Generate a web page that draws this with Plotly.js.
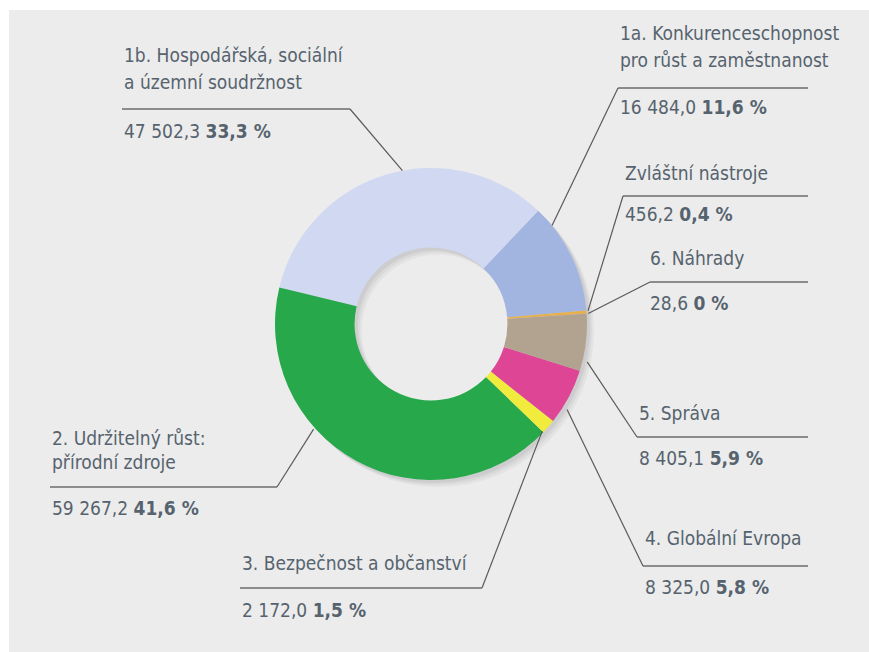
<!DOCTYPE html>
<html>
<head>
<meta charset="utf-8">
<script src="https://cdn.plot.ly/plotly-3.0.1.min.js"></script>
<style>
html,body{margin:0;padding:0;background:#fff;}
#chart{width:869px;height:652px;}
</style>
</head>
<body>
<div id="chart"></div>
<script>
// ---- data ----
const categories = [
  "1a. Konkurenceschopnost<br>pro růst a zaměstnanost",
  "1b. Hospodářská, sociální<br>a územní soudržnost",
  "2. Udržitelný růst:<br>přírodní zdroje",
  "3. Bezpečnost a občanství",
  "4. Globální Evropa",
  "5. Správa",
  "6. Náhrady",
  "Zvláštní nástroje"
];
const amounts = [16484.0, 47502.3, 59267.2, 2172.0, 8325.0, 8405.1, 28.6, 456.2];
const percentLabels = [11.6, 33.3, 41.6, 1.5, 5.8, 5.9, 0, 0.4];
const sliceColors = ["#a2b5e0", "#d0d9f1", "#27a84a", "#f1eb3e", "#de4595", "#b1a38f", "#9a86c0", "#e6b04c"];

// ---- geometry / styling ----
const W = 869, H = 652;
const cx = 431, cy = 324, R = 156, HOLE = 0.49;
const ROT = 85;   // clockwise angle (from 12 o'clock) where the first slice ends
const px = x => x / W;
const py = y => 1 - y / H;

// label layout: text x, label line centres, underline y, underline x range, leader start, value y, anchor fraction in slice, anchor radius factor
const labelLayout = [
  {tx: 618, lines: [33, 60], uy: 88,  ux: [618, 808], from: "left",  vy: 107, f: 0.18, rr: 1.00},
  {tx: 122, lines: [55, 82], uy: 109, ux: [122, 350], from: "right", vy: 131, f: 0.55, rr: 1.00},
  {tx: 50,  lines: [438, 462], uy: 487, ux: [50, 277], from: "right", vy: 508, f: 0.63, rr: 1.01},
  {tx: 240, lines: [563], uy: 588, ux: [240, 482], from: "right", vy: 610, f: 1.00, rr: 0.99},
  {tx: 643, lines: [538], uy: 566, ux: [643, 808], from: "left",  vy: 587, f: 0.70, rr: 1.03},
  {tx: 637, lines: [413], uy: 437, ux: [637, 808], from: "left",  vy: 458, f: 0.82, rr: 1.03},
  {tx: 648, lines: [258], uy: 282, ux: [650, 808], from: "left",  vy: 303, f: 0.50, rr: 1.01},
  {tx: 623, lines: [173], uy: 196, ux: [623, 808], from: "left",  vy: 214, f: 0.20, rr: 1.01}
];

const FONT = '"DejaVu Sans Condensed", "Liberation Sans Narrow", Roboto, sans-serif';
const TXT = "#56636e";

function fmtAmount(v) {
  const s = v.toFixed(1).split(".");
  return s[0].replace(/\B(?=(\d{3})+(?!\d))/g, " ") + "," + s[1];
}
function fmtPct(p) {
  return (p === 0 ? "0" : p.toFixed(1).replace(".", ",")) + " %";
}

const total = amounts.reduce((a, b) => a + b, 0);
const plotlyRotation = ROT - amounts[0] / total * 360;

const domain = {x: [px(cx - R), px(cx + R)], y: [py(cy + R), py(cy - R)]};

// soft shadow layers
const traces = [];
[[7, 7, 0.05], [5, 5, 0.06], [3, 3, 0.07]].forEach(([dx, dy, a]) => {
  traces.push({
    type: "pie", values: [1], labels: ["s"], hole: HOLE, sort: false,
    marker: {colors: ["rgba(60,60,70," + a + ")"]},
    textinfo: "none", hoverinfo: "skip", showlegend: false,
    domain: {x: [px(cx - R + dx), px(cx + R + dx)], y: [py(cy + R + dy), py(cy - R + dy)]}
  });
});

traces.push({
  type: "pie",
  labels: categories,
  values: amounts,
  hole: HOLE,
  sort: false,
  direction: "counterclockwise",
  rotation: plotlyRotation,
  marker: {colors: sliceColors, line: {width: 0}},
  textinfo: "none",
  hoverinfo: "label+value",
  showlegend: false,
  domain: domain
});

// annotations and leader lines
const annotations = [];
const shapes = [
  {type: "rect", xref: "paper", yref: "paper", x0: px(9), x1: 1, y0: 0, y1: py(10),
   fillcolor: "#ececec", line: {width: 0}, layer: "below"}
];
let cum = 0;
categories.forEach((cat, i) => {
  const L = labelLayout[i];
  const a1 = ROT - cum / total * 360;
  cum += amounts[i];
  const a0 = ROT - cum / total * 360;
  const ang = (a0 + L.f * (a1 - a0)) * Math.PI / 180;
  const ax = cx + L.rr * R * Math.sin(ang);
  const ay = cy - L.rr * R * Math.cos(ang);

  const parts = cat.split("<br>");
  parts.forEach((t, j) => {
    annotations.push({
      xref: "paper", yref: "paper", x: px(L.tx), y: py(L.lines[j]),
      xanchor: "left", yanchor: "middle", showarrow: false, text: t,
      font: {family: FONT, size: 19, color: TXT}
    });
  });
  annotations.push({
    xref: "paper", yref: "paper", x: px(L.tx), y: py(L.vy),
    xanchor: "left", yanchor: "middle", showarrow: false,
    text: fmtAmount(amounts[i]) + " <b>" + fmtPct(percentLabels[i]) + "</b>",
    font: {family: FONT, size: 19, color: TXT}
  });
  shapes.push({type: "line", xref: "paper", yref: "paper",
    x0: px(L.ux[0]), x1: px(L.ux[1]), y0: py(L.uy), y1: py(L.uy),
    line: {color: "#8c8c8c", width: 2}});
  const sx = L.from === "left" ? L.ux[0] : L.ux[1];
  shapes.push({type: "line", xref: "paper", yref: "paper",
    x0: px(sx), y0: py(L.uy), x1: px(ax), y1: py(ay),
    line: {color: "#5a5a5a", width: 1.2}});
});

const layout = {
  width: W, height: H,
  margin: {l: 0, r: 0, t: 0, b: 0},
  paper_bgcolor: "#ffffff",
  plot_bgcolor: "#ececec",
  showlegend: false,
  annotations: annotations,
  shapes: shapes
};

Plotly.newPlot("chart", traces, layout, {displayModeBar: false, staticPlot: true});
</script>
</body>
</html>
